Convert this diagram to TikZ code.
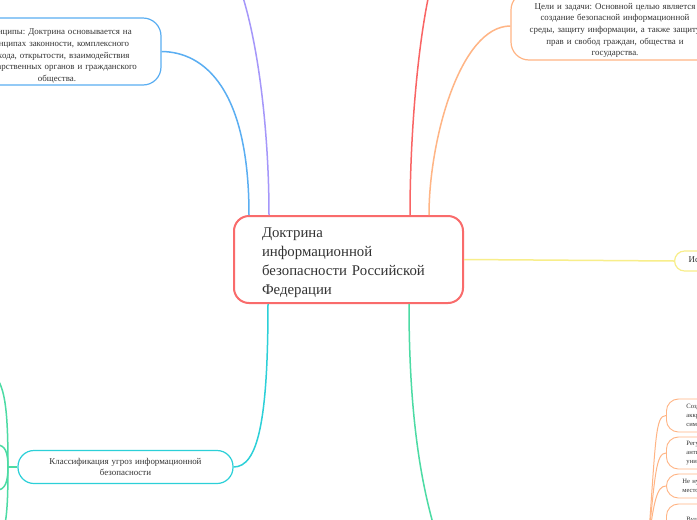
\documentclass[tikz,border=0pt]{standalone}
\usepackage{fontspec}
\setmainfont{Liberation Serif}
\frenchspacing
\definecolor{rootred}{HTML}{F96B6B}
\definecolor{lineblue}{HTML}{5AAEF2}
\definecolor{linepurple}{HTML}{A597FA}
\definecolor{linered}{HTML}{F96464}
\definecolor{lineorange}{HTML}{FFB585}
\definecolor{lineyellow}{HTML}{F8EE8A}
\definecolor{linecyan}{HTML}{2CD0D8}
\definecolor{linegreen}{HTML}{4CDBA4}
\definecolor{inktext}{HTML}{333333}
\tikzset{
  sink/.style={execute at begin node={\rule{0pt}{#1}}},
  roottopic/.style={draw=rootred, line width=2pt, fill=white, text=inktext,
    rounded corners=15pt, align=left, text width=173pt, inner xsep=28pt,
    minimum height=87pt, font=\fontsize{14.8}{19}\selectfont, sink=17pt},
  topic/.style={draw, line width=1.2pt, fill=white, text=inktext,
    align=center, text width=200pt, rounded corners=18pt, inner xsep=4pt, inner ysep=0pt,
    font=\fontsize{8.9}{11.6}\selectfont},
  leaf/.style={draw=lineorange, line width=0.9pt, fill=white, text=inktext,
    anchor=west, align=left, text width=70pt, inner xsep=20pt, inner ysep=0pt,
    rounded corners=12pt, font=\fontsize{6.6}{9}\selectfont},
  branch/.style={line width=1.5pt},
  twig/.style={line width=1pt, draw=lineorange}
}
\begin{document}
\begin{tikzpicture}[x=1pt,y=-1pt]
  \useasboundingbox (0,0) rectangle (697,520);
  \clip (0,0) rectangle (697,520);
  \fill[white] (0,0) rectangle (697,520);
  % ends of branches outside the frame
  \coordinate (plan)     at (239,-15);
  \coordinate (actors)   at (431,-15);
  \coordinate (measures) at (438,540);
  \coordinate (leafroot) at (648,545);
  \coordinate (fork)     at (8,467);
  \coordinate (kindA)    at (-15,370);
  \coordinate (kindB)    at (-3,445);
  \coordinate (kindC)    at (-3,490);
  \coordinate (kindD)    at (-15,548);
  \node[roottopic] (doctrine) at (348.5,259.5)
     {Доктрина\\информационной\\безопасности Российской\\Федерации};
  \node[topic, draw=lineblue, minimum width=208pt, minimum height=67pt, sink=15pt] (principles) at (57,51.5)
     {Принципы: Доктрина основывается на\\принципах законности, комплексного\\подхода, открытости, взаимодействия\\государственных органов и гражданского\\общества.};
  \node[topic, draw=lineorange, minimum width=208pt, minimum height=68pt, sink=15pt] (goals) at (615,26)
     {Цели и задачи: Основной целью является\\создание безопасной информационной\\среды, защиту информации, а также защиту\\прав и свобод граждан, общества и\\государства.};
  \node[topic, draw=lineyellow, anchor=west, align=left, rounded corners=10pt,
        minimum height=20pt, inner xsep=14pt] (sources) at (674,261)
     {Источники угроз};
  \node[topic, draw=linecyan, minimum width=215pt, minimum height=33pt, rounded corners=16pt] (classify) at (125.5,467)
     {Классификация угроз информационной\\безопасности};
  \node[leaf, minimum height=33pt] (leafA) at (666,415.5) {Создание\\аккредитованных\\символов};
  \node[leaf, minimum height=32pt] (leafB) at (666,453)   {Регулирование\\антивирусных\\унификаций};
  \node[leaf, minimum height=24pt, inner xsep=16pt] (leafC) at (666,486) {Не нужно\\место};
  \node[leaf, minimum height=33pt] (leafD) at (666,520.5) {Вудущее};
  % connectors
  \begin{scope}[branch]
     \draw[lineblue]   ([xshift=-99.5pt]doctrine.north) .. controls (249,90) and (205,52) .. (principles.east);
     \draw[linepurple] ([xshift=-79.5pt]doctrine.north) .. controls (269,140) and (260,45) .. (plan);
     \draw[linered]    ([xshift=61.5pt]doctrine.north)  .. controls (410,140) and (417,45) .. (actors);
     \draw[lineorange] ([xshift=80.5pt]doctrine.north)  .. controls (429,140) and (460,26) .. (goals.west);
     \draw[lineyellow] (doctrine.east) -- (sources.west);
     \draw[linecyan]   ([xshift=-80.5pt]doctrine.south) .. controls (268,420) and (258,467) .. (classify.east);
     \draw[linegreen]  ([xshift=60.5pt]doctrine.south)  .. controls (409,420) and (422,490) .. (measures);
     \draw[linegreen, line width=2.5pt] (classify.west) -- (fork);
     \draw[linegreen]  (fork) .. controls (8,400) and (4,375) .. (kindA);
     \draw[linegreen]  (fork) .. controls (8,452) and (5,445) .. (kindB);
     \draw[linegreen]  (fork) .. controls (8,482) and (5,490) .. (kindC);
     \draw[linegreen]  (fork) .. controls (8,530) and (4,545) .. (kindD);
  \end{scope}
  \draw[twig] (leafroot) .. controls (656,440) and (655,415.5) .. (leafA.west);
  \draw[twig] (leafroot) .. controls (655,475) and (656,453) .. (leafB.west);
  \draw[twig] (leafroot) .. controls (654,500) and (657,486) .. (leafC.west);
  \draw[twig] (leafroot) .. controls (653,528) and (658,520.5) .. (leafD.west);
\end{tikzpicture}
\end{document}
